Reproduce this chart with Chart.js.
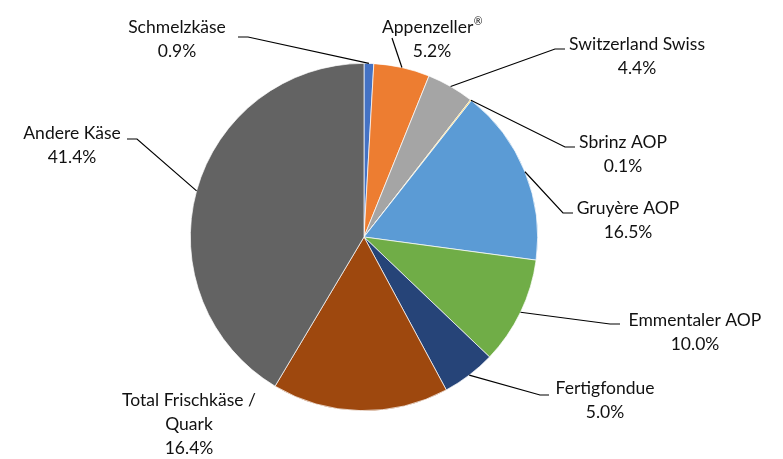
<!DOCTYPE html>
<html>
<head>
<meta charset="utf-8">
<script src="https://cdn.jsdelivr.net/npm/chart.js@4.4.1/dist/chart.umd.min.js"></script>
<style>
  html, body { margin: 0; padding: 0; background: #fff; }
  #wrap { width: 783px; height: 459px; }
</style>
</head>
<body>
<div id="wrap"><canvas id="c" width="783" height="459"></canvas></div>
<script>
const categories = ["Schmelzkäse", "Appenzeller®", "Switzerland Swiss", "Sbrinz AOP", "Gruyère AOP", "Emmentaler AOP", "Fertigfondue", "Total Frischkäse / Quark", "Andere Käse"];
const shares = [0.9, 5.2, 4.4, 0.1, 16.5, 10.0, 5.0, 16.4, 41.4];
const colors = ["#4472C4", "#ED7D31", "#A5A5A5", "#FFC000", "#5B9BD5", "#70AD47", "#264478", "#9E480E", "#636363"];

// label placement (text centre of first line, line-end near label, elbow)
const labelLayout = [
  { lines: ["Schmelzkäse"], x: 177, y: 27, end: [238, 37], elbow: [248, 37] },
  { lines: ["Appenzeller®"], x: 432, y: 27, end: [392, 38], elbow: [392, 38] },
  { lines: ["Switzerland Swiss"], x: 637, y: 44, end: [565, 49], elbow: [555, 49] },
  { lines: ["Sbrinz AOP"], x: 623, y: 142, end: [575, 147], elbow: [565, 147] },
  { lines: ["Gruyère AOP"], x: 628, y: 208, end: [573, 213], elbow: [563, 213] },
  { lines: ["Emmentaler AOP"], x: 695, y: 320, end: [620, 324], elbow: [610, 324] },
  { lines: ["Fertigfondue"], x: 605, y: 388, end: [549, 395], elbow: [540, 395] },
  { lines: ["Total Frischkäse /", "Quark"], x: 189, y: 400, end: null, elbow: null },
  { lines: ["Andere Käse"], x: 72, y: 133, end: [127, 139], elbow: [137, 139] }
];

const FONT_SIZE = 17.5;
const FONT = FONT_SIZE + 'px Lato';
const SUP_FONT = (FONT_SIZE * 0.6) + 'px Lato';
const LINE_H = 24;

function drawLine(ctx, t, cx, cy) {
  const idx = t.indexOf('®');
  if (idx < 0) { ctx.textAlign = 'center'; ctx.fillText(t, cx, cy); return; }
  const main = t.slice(0, idx);
  ctx.font = FONT;
  const w1 = ctx.measureText(main).width;
  ctx.font = SUP_FONT;
  const w2 = ctx.measureText('®').width;
  const x0 = cx - (w1 + w2) / 2;
  ctx.textAlign = 'left';
  ctx.font = FONT;
  ctx.fillText(main, x0, cy);
  ctx.font = SUP_FONT;
  ctx.fillText('®', x0 + w1 + 0.5, cy - 5);
  ctx.font = FONT;
  ctx.textAlign = 'center';
}

const labelPlugin = {
  id: 'pieLabels',
  afterDatasetsDraw(chart) {
    const ctx = chart.ctx;
    const meta = chart.getDatasetMeta(0);
    ctx.save();
    ctx.font = FONT;
    ctx.fillStyle = '#111';
    ctx.textAlign = 'center';
    ctx.textBaseline = 'middle';
    meta.data.forEach((arc, i) => {
      const L = labelLayout[i];
      const p = arc.getProps(['x', 'y', 'startAngle', 'endAngle', 'outerRadius'], true);
      const mid = (p.startAngle + p.endAngle) / 2;
      const rx = p.x + Math.cos(mid) * p.outerRadius;
      const ry = p.y + Math.sin(mid) * p.outerRadius;
      if (L.end) {
        ctx.beginPath();
        ctx.strokeStyle = '#000';
        ctx.lineWidth = 1.2;
        ctx.moveTo(rx, ry);
        ctx.lineTo(L.elbow[0], L.elbow[1]);
        ctx.lineTo(L.end[0], L.end[1]);
        ctx.stroke();
      }
      const text = L.lines.concat([shares[i].toFixed(1) + '%']);
      text.forEach((t, k) => drawLine(ctx, t, L.x, L.y + k * LINE_H));
    });
    ctx.restore();
  }
};

new Chart(document.getElementById('c'), {
  type: 'pie',
  data: {
    labels: categories,
    datasets: [{
      data: shares,
      backgroundColor: colors,
      borderColor: '#ffffff',
      borderWidth: 0.7
    }]
  },
  options: {
    responsive: false,
    animation: false,
    layout: { padding: { left: 190, right: 245, top: 63, bottom: 48 } },
    plugins: { legend: { display: false }, tooltip: { enabled: false } }
  },
  plugins: [labelPlugin]
});
</script>
</body>
</html>
